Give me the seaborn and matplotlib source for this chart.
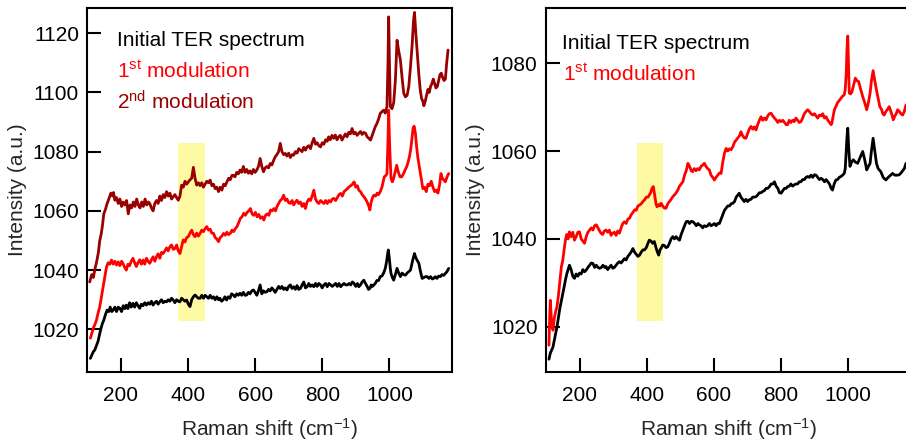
import numpy as np
import pandas as pd
import matplotlib
matplotlib.use("Agg")
import matplotlib.pyplot as plt
import seaborn as sns

# ---------------- data ----------------
# Left panel: 2nd modulation (dark red)
left_mod2 = [
    (107,1036),(113,1038.5),(118,1037.5),(122,1040),(128,1043),(133,1046),(137,1050),(141,1052),
    (145,1055),(149,1059),(154,1060.5),(159,1062.5),(164,1064),(170,1066),(175,1065),(178,1066.2),
    (182,1063.6),(187,1064.5),(192,1062.5),(197,1064),(202,1061.5),(207,1063),(212,1062),(217,1063.5),
    (222,1059),(227,1062),(232,1061),(237,1063),(242,1061.5),(247,1064),(252,1062),(257,1061),
    (262,1063),(267,1061.5),(272,1064),(277,1062),(282,1063),(286,1062.5),(291,1061),(296,1060),
    (301,1062.5),(306,1063.5),(311,1062.5),(316,1065),(321,1063.5),(326,1065.5),(331,1064.5),(336,1066.5),
    (341,1065),(346,1066),(351,1064),(356,1064.8),(361,1065.5),(366,1064.5),(371,1063.6),(376,1065),
    (381,1068.7),(386,1068),(391,1070),(396,1069),(401,1069.8),(406,1070.5),(411,1071),(416,1074.7),
    (421,1071),(426,1068.7),(431,1069.5),(436,1068.5),(441,1069.5),(446,1068),(451,1069),(456,1070),
    (461,1069.5),(466,1070.4),(471,1068.5),(476,1069),(481,1067.5),(486,1068),(491,1066.5),(496,1068),
    (501,1067),(506,1069),(511,1068.5),(516,1069.8),(521,1071),(526,1070.5),(531,1072),(535,1072),
    (540,1071.5),(545,1073),(550,1072.5),(555,1073.8),(560,1073),(565,1075),(570,1073),(575,1074),
    (580,1072.7),(585,1073.5),(590,1072.5),(595,1074),(600,1073),(605,1073.8),(610,1075),(615,1077.7),
    (620,1075),(625,1073.2),(630,1074.5),(635,1075),(640,1074.5),(645,1076),(650,1075.5),(655,1077),
    (660,1078.3),(665,1079),(670,1080),(675,1082.8),(680,1080),(685,1079),(690,1079.4),(695,1078.5),
    (700,1079.5),(705,1078),(710,1079),(715,1078.8),(720,1080),(725,1079.5),(730,1081),(735,1080.5),
    (740,1080),(745,1081.5),(750,1080.5),(755,1081.6),(760,1082),(765,1081),(770,1083),(775,1084.5),
    (780,1082.5),(785,1083),(790,1082),(795,1081.6),(800,1083),(805,1082.5),(810,1084),(815,1083.5),
    (819,1085),(824,1084),(829,1085.5),(834,1084.5),(839,1085.6),(844,1084),(849,1085),(854,1085.5),
    (859,1083.9),(864,1085),(869,1086),(874,1085),(879,1086.5),(884,1086),(889,1087.8),(894,1086),
    (899,1086.5),(904,1085.5),(909,1086.2),(914,1086.8),(919,1085.8),(924,1086.5),(929,1086.2),(934,1085),
    (939,1084.5),(944,1083.9),(949,1085.5),(954,1087),(958,1088.4),(963,1089.5),(968,1091),(973,1092.9),
    (978,1093.5),(983,1094),(988,1093),(993,1095.2),(996,1110),(998,1125.5),(1000,1112),(1003,1095.2),
    (1008,1094.5),(1013,1096.5),(1018,1104),(1023,1117.6),(1028,1114),(1033,1110.9),(1038,1105),(1043,1099.7),
    (1048,1098.5),(1053,1099),(1058,1102),(1063,1108.6),(1068,1116),(1072,1124),(1075,1127),(1079,1120),
    (1084,1112),(1088,1106),(1092,1101),(1096,1098),(1100,1097),(1103,1095.5),(1107,1097),(1111,1099),
    (1115,1101),(1119,1100),(1123,1102),(1127,1103),(1131,1104.5),(1135,1103),(1139,1101.5),(1143,1102),
    (1147,1104),(1151,1106),(1155,1106.5),(1159,1105),(1163,1104),(1167,1104.5),(1171,1110),(1175,1114.3),
]

# Left panel: 1st modulation (red)
left_mod1 = [
    (109,1017),(114,1019),(118,1020.5),(122,1021.5),(127,1023),(132,1025.5),(137,1027.6),(142,1031),
    (147,1034.4),(152,1038),(157,1041),(162,1042.5),(167,1042),(172,1043.4),(177,1042),(182,1043),
    (187,1041.7),(192,1042.8),(197,1041.5),(202,1043),(206,1042.3),(211,1041),(216,1040),(221,1042),
    (226,1041.5),(231,1043),(236,1044),(241,1042.5),(246,1041.2),(251,1042.5),(256,1043.5),(261,1042),
    (266,1043.4),(271,1042),(276,1044),(281,1043),(286,1042.3),(291,1043.5),(296,1044.5),(301,1043),
    (306,1044.5),(311,1045.5),(316,1044),(321,1046),(326,1045.6),(331,1046.5),(336,1047.5),(341,1046.5),
    (346,1047.9),(351,1048.5),(356,1047),(361,1047.3),(366,1048.5),(371,1046.5),(376,1045.6),(381,1048),
    (386,1050.2),(391,1049.5),(396,1051),(401,1051.3),(406,1052.5),(411,1053.5),(416,1052),(421,1051.3),
    (426,1052.5),(431,1051.5),(436,1052.4),(441,1053.5),(446,1053),(451,1054),(456,1054.7),(461,1053.5),
    (466,1053.8),(471,1052.5),(476,1052.4),(481,1051),(486,1050.5),(491,1049.6),(496,1051),(501,1051.5),
    (506,1052.4),(511,1051.8),(516,1052.8),(521,1052),(526,1052.4),(531,1053.5),(536,1053),(541,1054),
    (546,1054.7),(551,1056),(556,1057.5),(561,1058),(566,1059.2),(571,1058.5),(576,1059.5),(581,1060),
    (586,1060.8),(591,1059),(596,1058.5),(601,1059.5),(606,1058),(611,1058.8),(616,1057.5),(621,1058),
    (626,1056.9),(631,1058.5),(636,1059),(641,1058.5),(646,1060.3),(651,1060),(656,1060.8),(661,1060),
    (665,1061.4),(670,1062.5),(675,1063.5),(680,1064),(685,1065.3),(690,1063.5),(695,1064),(700,1062.8),
    (705,1062.5),(710,1063.5),(715,1062),(720,1063),(725,1063.6),(730,1062.5),(735,1063),(740,1061.5),
    (745,1062.5),(750,1060.8),(755,1063),(760,1064),(765,1063.5),(770,1065),(775,1067),(780,1064),
    (785,1063),(790,1062.5),(795,1063.5),(800,1063),(805,1062.5),(810,1063.5),(815,1062.5),(820,1063.5),
    (825,1063),(830,1064),(835,1064.2),(840,1063.5),(845,1064.5),(850,1065.5),(855,1065.9),(860,1065),
    (865,1066.5),(870,1067),(875,1067.5),(880,1068.1),(885,1068.5),(890,1069),(895,1069.8),(900,1068),
    (905,1068.5),(909,1067),(914,1066.5),(919,1065.5),(924,1064.8),(929,1064),(934,1063),(939,1061.5),
    (942,1060.3),(946,1063),(950,1064.5),(954,1065.3),(959,1065),(964,1066),(968,1065.5),(973,1066.5),
    (978,1068),(982,1070),(985,1071.5),(990,1072),(993,1072.6),(996,1084),(998,1094),(1001,1082),
    (1005,1071),(1009,1069.8),(1013,1071),(1018,1073.5),(1022,1075.4),(1027,1073),(1032,1071.5),(1037,1071.5),
    (1042,1072.5),(1047,1073.8),(1052,1075),(1056,1076.5),(1060,1078.3),(1064,1081),(1068,1085),(1071,1088),
    (1074,1088.6),(1078,1086),(1081,1082),(1085,1078),(1090,1074.5),(1095,1071),(1100,1067.5),(1105,1068),
    (1110,1066.5),(1115,1069),(1120,1068.5),(1125,1070),(1130,1068),(1135,1066.5),(1140,1067),(1145,1066),
    (1150,1069),(1154,1072.6),(1158,1071),(1162,1070.5),(1167,1069.8),(1172,1071.5),(1177,1072.6),
]

# Left panel: initial TER spectrum (black)
left_init = [
    (109,1010.2),(114,1011.5),(118,1012.5),(122,1013),(127,1014.5),(132,1016),(137,1018.6),(141,1020.5),
    (145,1022),(149,1023.1),(154,1025),(159,1026.5),(164,1026),(168,1027.5),(173,1026),(177,1026.5),
    (182,1027.5),(187,1026),(192,1027.5),(197,1027.1),(202,1026),(207,1028),(212,1027),(216,1028.2),
    (221,1027),(226,1029),(231,1027.5),(236,1028.8),(241,1027.5),(246,1029),(251,1028),(256,1027.1),
    (261,1028.5),(266,1028),(271,1029),(276,1028.2),(281,1029),(286,1028.5),(291,1029.5),(296,1028.2),
    (301,1029),(306,1029.5),(311,1028.5),(316,1029.3),(321,1030),(326,1029),(331,1029.5),(336,1029.3),
    (341,1030),(346,1029.5),(351,1030.5),(356,1029.9),(361,1029),(366,1030),(371,1029.5),(376,1029.3),
    (381,1030.5),(386,1030),(391,1029.5),(396,1029.9),(401,1028.5),(406,1027.7),(411,1030),(416,1031),
    (421,1031.6),(426,1031),(431,1030.5),(436,1030.5),(441,1031.5),(446,1030.5),(451,1031.5),(456,1031),
    (461,1030.5),(466,1031.5),(471,1030.5),(476,1031),(481,1030),(486,1031),(491,1030),(495,1030.5),
    (500,1029.5),(505,1030),(510,1031),(515,1029.9),(520,1031),(525,1030.5),(530,1032),(535,1031.6),
    (540,1031),(545,1032),(550,1031.5),(555,1032.2),(560,1031.5),(565,1032.5),(570,1031.5),(575,1031.6),
    (580,1032.5),(585,1032),(590,1033),(595,1033.3),(600,1032.5),(605,1031.5),(610,1033),(615,1035),
    (620,1032),(625,1033),(630,1032.5),(635,1032.7),(640,1033.5),(645,1033),(650,1034),(655,1033.3),
    (660,1032.5),(665,1033.5),(670,1034.5),(675,1033.8),(680,1034.5),(685,1033.5),(690,1034),(695,1033.3),
    (700,1034.5),(705,1035),(710,1033.8),(715,1034.4),(720,1033.5),(725,1034.8),(730,1033.5),(735,1033.8),
    (740,1035),(745,1036),(750,1034),(755,1034.4),(760,1035.5),(765,1034.5),(770,1035),(775,1034.4),
    (780,1035.5),(785,1034.5),(790,1035.5),(795,1035),(800,1034),(805,1035),(810,1035.5),(815,1034.4),
    (820,1035.5),(825,1035),(830,1034.5),(835,1035),(840,1035.5),(845,1034.5),(850,1035.5),(855,1034.4),
    (860,1035),(865,1035.5),(870,1035),(875,1035),(880,1035.5),(885,1035),(890,1036),(895,1035.5),
    (900,1034.5),(905,1035.5),(909,1034.4),(914,1035),(919,1036),(924,1036.6),(929,1035.5),(934,1034.5),
    (938,1033.5),(942,1033.8),(946,1035),(950,1034.5),(954,1035),(958,1035.5),(963,1036.5),(968,1036.5),
    (973,1037.8),(978,1038),(983,1039),(988,1040.6),(992,1043),(995,1045.5),(997,1046.8),(1000,1044),
    (1003,1040.5),(1005,1038.9),(1009,1037.5),(1013,1036.6),(1018,1038.5),(1023,1040.6),(1028,1039),(1033,1037.8),
    (1038,1039),(1043,1038.5),(1048,1038.3),(1053,1039),(1058,1039.5),(1063,1040),(1067,1042),(1071,1044),
    (1075,1045.6),(1078,1044.5),(1082,1043.5),(1088,1042.3),(1092,1040),(1095,1038.5),(1098,1037.2),(1103,1037.5),
    (1108,1037.8),(1113,1037.8),(1118,1037.2),(1123,1037.8),(1128,1037),(1132,1037.2),(1137,1037.8),(1142,1037.2),
    (1147,1038),(1152,1037.8),(1157,1038.5),(1162,1038.2),(1167,1038.9),(1172,1039.5),(1177,1040.6),
]

# Right panel: 1st modulation (red)
right_mod1 = [
    (109,1015.8),(111,1022),(113,1026),(116,1022),(119,1020),(121,1019.2),(125,1022),(129,1023.5),
    (133,1024.6),(137,1027),(141,1030),(146,1033.7),(150,1035),(154,1037.5),(158,1039.7),(162,1041),
    (166,1040),(170,1041.6),(175,1040.5),(180,1041.5),(185,1039.7),(190,1040.5),(195,1041.5),(200,1041.6),
    (205,1040),(210,1039.5),(215,1039),(220,1040.5),(225,1041.5),(230,1042),(235,1042.5),(240,1042),
    (245,1043),(250,1043.2),(255,1042.5),(260,1041.8),(264,1041.3),(269,1041),(274,1041.8),(279,1042),
    (284,1041.5),(289,1042),(294,1040.8),(299,1041.3),(304,1041.5),(309,1040.8),(314,1041.8),(319,1041.3),
    (324,1042.5),(329,1043.5),(334,1043.9),(339,1043.5),(344,1044.5),(349,1044.7),(354,1045.5),(359,1046),
    (364,1046.6),(369,1046.5),(374,1047.5),(379,1047.7),(384,1048),(389,1048.5),(394,1048.9),(399,1049.5),
    (404,1049.5),(408,1050),(412,1050.5),(416,1051.5),(420,1051.9),(424,1050),(428,1048),(431,1047.3),
    (436,1047.8),(440,1047.5),(443,1048.1),(448,1047.5),(453,1047),(458,1047),(463,1048),(468,1048.5),
    (473,1049),(478,1049.6),(483,1050),(488,1050.5),(493,1051.1),(498,1052),(503,1052.5),(508,1053),
    (513,1054.5),(518,1055.5),(523,1057.2),(528,1056.5),(533,1055.5),(537,1055.3),(542,1056),(547,1055.5),
    (552,1056),(557,1055.7),(562,1056.5),(567,1056.8),(572,1057.2),(577,1056.5),(582,1056),(587,1055.7),
    (592,1054.5),(597,1054),(602,1053.4),(607,1054),(612,1054.5),(617,1055),(622,1054.9),(627,1057.5),
    (632,1059.5),(637,1060.6),(642,1060),(647,1060.5),(652,1060.3),(657,1061),(662,1062),(667,1062.5),
    (672,1063),(677,1063.5),(681,1064.4),(686,1063.5),(691,1063),(696,1062.9),(701,1064),(706,1065),
    (711,1065.6),(716,1065),(721,1065.5),(726,1064.8),(731,1066),(736,1067),(741,1067.8),(746,1067),
    (751,1067.5),(756,1067.1),(761,1068),(766,1068.5),(771,1068.6),(776,1068),(781,1067.5),(786,1067.1),
    (791,1066.5),(796,1067),(801,1066.7),(806,1067),(811,1066.5),(816,1066),(820,1066),(825,1067),
    (830,1066.5),(835,1067),(840,1066.7),(845,1067.5),(850,1067),(855,1066.5),(860,1066.7),(865,1067.5),
    (870,1068.5),(875,1069),(880,1069.4),(885,1069),(890,1068.5),(895,1068.2),(900,1068.5),(905,1068),
    (910,1067.5),(915,1068.2),(920,1068),(925,1068.5),(930,1067.5),(935,1067.8),(940,1067),(945,1066.5),
    (950,1066),(952,1066.3),(956,1068),(960,1069.5),(964,1070.1),(969,1071),(974,1071.5),(979,1072),
    (984,1072.5),(989,1072.8),(992,1074),(995,1078),(997,1083),(999.5,1086.2),(1002,1079),(1004,1073.2),
    (1008,1073),(1012,1073.5),(1017,1075),(1022,1076.6),(1027,1076),(1032,1075.8),(1038,1074),(1044,1072.4),
    (1050,1071),(1056,1069.4),(1061,1071),(1066,1073.2),(1070,1076),(1075,1078.3),(1080,1076),(1085,1073.9),
    (1090,1072),(1095,1070.1),(1100,1069.5),(1104,1068.5),(1108,1068.2),(1113,1069),(1118,1069.5),(1123,1070.1),
    (1128,1069),(1132,1068),(1135,1067.1),(1140,1068),(1144,1068.5),(1148,1069.4),(1153,1069),(1158,1068.5),
    (1163,1068.2),(1168,1069),(1173,1070.5),
]

# Right panel: initial TER spectrum (black)
right_init = [
    (109,1012.6),(113,1014),(116,1014.5),(121,1015.4),(125,1017),(129,1018.5),(133,1020),(137,1022),
    (141,1024),(145,1025.5),(150,1027.5),(154,1029),(158,1030.6),(162,1032),(166,1033),(170,1034),
    (175,1033),(180,1031.5),(185,1031),(190,1032),(195,1031.5),(200,1032.2),(205,1032),(210,1033),
    (215,1032.5),(220,1032.9),(225,1033.5),(230,1034),(235,1034.5),(240,1034.4),(245,1033.5),(250,1034),
    (255,1033.5),(260,1033.3),(265,1033.5),(270,1034),(275,1033.5),(279,1033.7),(284,1033),(289,1033.5),
    (294,1034),(299,1033.3),(304,1033.5),(309,1034),(314,1034.5),(319,1034.8),(324,1034.5),(329,1035),
    (334,1035.5),(339,1035.2),(344,1036),(349,1036.5),(354,1037),(359,1037.8),(364,1037),(369,1036.5),
    (374,1036),(379,1036.3),(384,1037),(389,1037.5),(394,1037.5),(399,1038),(404,1039),(408,1039.7),
    (413,1039.5),(418,1039),(423,1039.4),(428,1038),(432,1037),(436,1036.3),(440,1037.5),(444,1038),
    (448,1038.6),(453,1038.5),(458,1038),(463,1038.2),(468,1039),(473,1040),(478,1040.5),(483,1040),
    (488,1040.5),(493,1040),(498,1039.7),(503,1041),(508,1042),(513,1043),(518,1043.9),(523,1044),
    (528,1043.5),(533,1044),(538,1043.9),(543,1043.5),(548,1043),(553,1043.5),(557,1043.2),(562,1043),
    (567,1042.5),(572,1043),(577,1042.8),(582,1043),(587,1043.5),(592,1043),(597,1043.2),(602,1043.5),
    (607,1043),(612,1043.5),(617,1043.5),(622,1044.5),(627,1045.5),(632,1046.5),(637,1047),(642,1047.5),
    (647,1047.5),(652,1048),(657,1048.1),(662,1048.5),(667,1049.5),(672,1050),(676,1050.4),(681,1049.5),
    (686,1049),(691,1048.5),(696,1049),(701,1048.5),(706,1048.9),(711,1049),(716,1049.5),(721,1049.5),
    (726,1049.6),(731,1050),(736,1050.5),(741,1050.5),(746,1050.8),(751,1051),(756,1051.5),(761,1051.5),
    (766,1051.9),(771,1052.5),(776,1052.5),(781,1053),(786,1052),(791,1051.5),(796,1050.5),(801,1050.4),
    (806,1051),(811,1051.5),(816,1051.5),(820,1051.9),(825,1052),(830,1052.5),(835,1052),(840,1052.3),
    (845,1052.5),(850,1052.5),(855,1053),(860,1053),(865,1053.5),(870,1053.5),(875,1054),(880,1054.2),
    (885,1054),(890,1054.5),(895,1054),(900,1054.6),(905,1054.5),(910,1054),(915,1053.5),(920,1053.8),
    (925,1053.5),(930,1053),(935,1053.5),(940,1053),(945,1052.5),(950,1051.5),(954,1051.1),(959,1052.5),
    (964,1053.4),(969,1053.5),(974,1054),(979,1054.2),(984,1054.5),(989,1054.9),(992,1056),(995,1060),
    (997,1063),(999.5,1065.2),(1002,1061),(1006,1056.5),(1011,1057.5),(1016,1058),(1022,1057.5),(1029,1057.2),
    (1036,1058.5),(1044,1059.9),(1050,1058),(1056,1055.7),(1061,1056.5),(1066,1057.2),(1070,1060),(1075,1062.9),
    (1080,1060),(1085,1057.2),(1090,1056),(1098,1055.3),(1105,1054),(1113,1053.4),(1120,1054),(1127,1054.5),
    (1133,1054.9),(1140,1054.5),(1147,1054.5),(1153,1054.6),(1158,1055),(1163,1055.5),(1168,1056),(1173,1057.2),
]

x_ticks = [200, 400, 600, 800, 1000]
left_y_ticks = [1020, 1040, 1060, 1080, 1100, 1120]
right_y_ticks = [1020, 1040, 1060, 1080]
highlight_x = (370, 450)
left_highlight_y = (1022.9, 1082.8)
right_highlight_y = (1021.4, 1061.8)

C_BLACK = "#000000"
C_RED = "#FF0000"
C_DARK = "#990000"
C_YELLOW = "#FDFAA3"

# ---------------- style ----------------
sns.set_style("ticks")
plt.rcParams["font.family"] = ["Liberation Sans", "DejaVu Sans"]
plt.rcParams["mathtext.fontset"] = "custom"
plt.rcParams["mathtext.rm"] = "Liberation Sans"
plt.rcParams["mathtext.it"] = "Liberation Sans:italic"
plt.rcParams["mathtext.bf"] = "Liberation Sans:bold"
plt.rcParams["axes.linewidth"] = 1.5
plt.rcParams["axes.edgecolor"] = "#000000"

FS = 15
LW = 2.0


def to_df(pts):
    return pd.DataFrame(pts, columns=["shift", "intensity"])


fig = plt.figure(figsize=(9.06, 4.41), dpi=100)
ax1 = fig.add_axes([0.0964, 0.1571, 0.4022, 0.8241])
ax2 = fig.add_axes([0.6026, 0.1571, 0.4022, 0.8241])


def style_axes(ax, yticks, ylim):
    ax.set_xlim(100, 1186)
    ax.set_ylim(*ylim)
    ax.set_xticks(x_ticks)
    ax.set_yticks(yticks)
    ax.tick_params(axis="both", direction="in", length=10, width=1.5,
                   labelsize=FS, colors="#000000")
    ax.tick_params(axis="x", pad=10.5)
    ax.tick_params(axis="y", pad=6)
    for s in ax.spines.values():
        s.set_visible(True)
        s.set_linewidth(1.5)
        s.set_color("#000000")
    ax.set_xlabel(r"Raman shift (cm$^{\mathregular{-1}}$)", fontsize=FS, labelpad=7.5)
    ax.set_ylabel("Intensity (a.u.)", fontsize=FS, labelpad=4)


# left panel
ax1.fill_between(list(highlight_x), left_highlight_y[0], left_highlight_y[1],
                 color=C_YELLOW, linewidth=0, zorder=0)
for pts, col in [(left_init, C_BLACK), (left_mod1, C_RED), (left_mod2, C_DARK)]:
    sns.lineplot(data=to_df(pts), x="shift", y="intensity", ax=ax1, color=col,
                 linewidth=LW, estimator=None, sort=False, zorder=3)
style_axes(ax1, left_y_ticks, (1005.7, 1128.4))
ax1.text(0.081, (371.7 - 46.0) / 363.4, "Initial TER spectrum", transform=ax1.transAxes,
         fontsize=FS, color=C_BLACK, va="baseline")
ax1.text(0.081, (371.7 - 77.7) / 363.4, r"1$^{\mathregular{st}}$ modulation",
         transform=ax1.transAxes, fontsize=FS, color=C_RED, va="baseline")
ax1.text(0.081, (371.7 - 109.3) / 363.4, r"2$^{\mathregular{nd}}$ modulation",
         transform=ax1.transAxes, fontsize=FS, color=C_DARK, va="baseline")

# right panel
ax2.fill_between(list(highlight_x), right_highlight_y[0], right_highlight_y[1],
                 color=C_YELLOW, linewidth=0, zorder=0)
for pts, col in [(right_init, C_BLACK), (right_mod1, C_RED)]:
    sns.lineplot(data=to_df(pts), x="shift", y="intensity", ax=ax2, color=col,
                 linewidth=LW, estimator=None, sort=False, zorder=3)
style_axes(ax2, right_y_ticks, (1009.75, 1092.5))
ax2.text(0.043, (371.7 - 49.3) / 363.4, "Initial TER spectrum", transform=ax2.transAxes,
         fontsize=FS, color=C_BLACK, va="baseline")
ax2.text(0.046, (371.7 - 80.7) / 363.4, r"1$^{\mathregular{st}}$ modulation",
         transform=ax2.transAxes, fontsize=FS, color=C_RED, va="baseline")

for ax in (ax1, ax2):
    leg = ax.get_legend()
    if leg is not None:
        leg.remove()

fig.savefig("out.png", dpi=100)
